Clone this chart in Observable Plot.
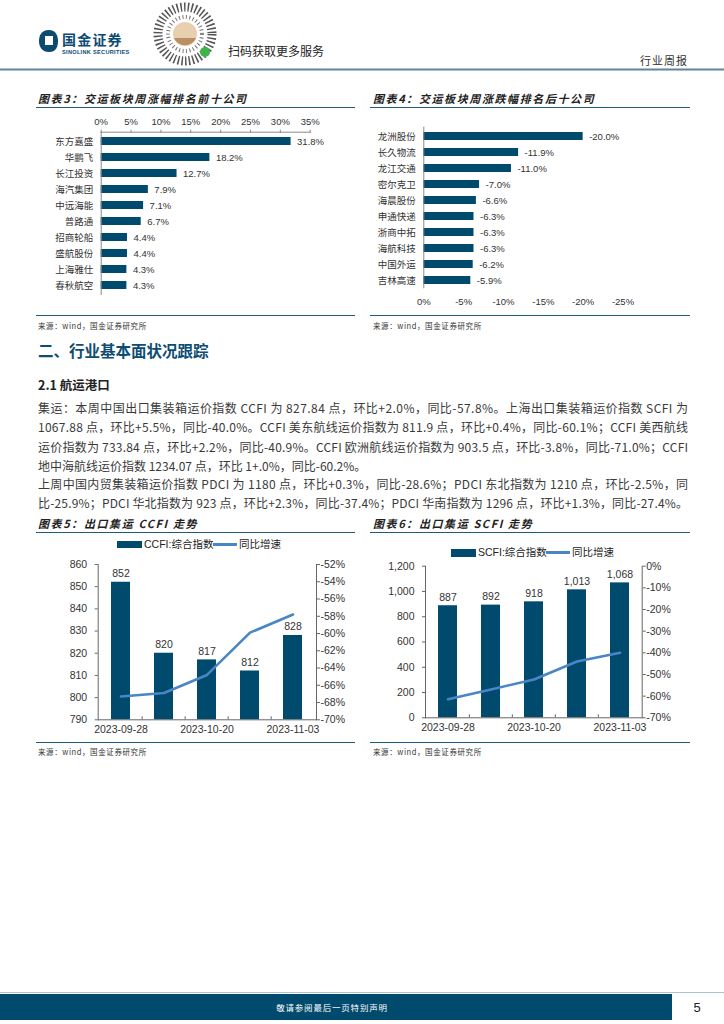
<!DOCTYPE html>
<html><head><meta charset="utf-8">
<script src="https://cdn.jsdelivr.net/npm/d3@7"></script>
<script src="https://cdn.jsdelivr.net/npm/@observablehq/plot@0.6"></script>
<style>
html,body{margin:0;padding:0;background:#fff}
body{width:724px;height:1024px;position:relative;overflow:hidden;font-family:"Liberation Sans","Noto Sans CJK SC",sans-serif;color:#333}
.title{position:absolute;font-family:"Noto Sans CJK SC",sans-serif;font-weight:bold;font-style:italic;font-size:11px;letter-spacing:1.6px;color:#222;white-space:nowrap;line-height:12px}
.hline{position:absolute;height:0;border-top:1.5px solid #1d5a82}
.src{position:absolute;font-family:"Noto Sans CJK SC",sans-serif;font-size:7.5px;letter-spacing:0.6px;color:#333;white-space:nowrap;line-height:9px}
.leg{position:absolute;font-family:"Liberation Sans","Noto Sans CJK SC",sans-serif;font-size:10.5px;color:#222;white-space:nowrap;line-height:12px}
.sw{position:absolute}
</style></head><body>
<div id="root"></div>
<script>
// ---------- data ----------
const topNames = ["东方嘉盛","华鹏飞","长江投资","海汽集团","中远海能","普路通","招商轮船","盛航股份","上海雅仕","春秋航空"];
const topValues = [31.8,18.2,12.7,7.9,7.1,6.7,4.4,4.4,4.3,4.3];
const topTicks = [0,5,10,15,20,25,30,35];
const bottomNames = ["龙洲股份","长久物流","龙江交通","密尔克卫","海晨股份","申通快递","浙商中拓","海航科技","中国外运","吉林高速"];
const bottomValues = [-20.0,-11.9,-11.0,-7.0,-6.6,-6.3,-6.3,-6.3,-6.2,-5.9];
const bottomTicks = [0,-5,-10,-15,-20,-25];
const weekDates = ["2023-09-28","2023-10-13","2023-10-20","2023-10-27","2023-11-03"];
const weekTickLabels = ["2023-09-28","2023-10-20","2023-11-03"];
const ccfiValues = [852,820,817,812,828];
const ccfiYoY = [-67.3,-66.9,-64.8,-59.9,-57.8];
const ccfiLeftTicks = [790,800,810,820,830,840,850,860];
const ccfiRightTicks = [-70,-68,-66,-64,-62,-60,-58,-56,-54,-52];
const scfiValues = [887,892,918,1013,1068];
const scfiYoY = [-61.4,-56.9,-52.3,-44.0,-40.0];
const scfiLeftTicks = [0,200,400,600,800,1000,1200];
const scfiRightTicks = [-70,-60,-50,-40,-30,-20,-10,0];
const paragraphLines = [
  "集运：本周中国出口集装箱运价指数 CCFI 为 827.84 点，环比+2.0%，同比-57.8%。上海出口集装箱运价指数 SCFI 为",
  "1067.88 点，环比+5.5%，同比-40.0%。CCFI 美东航线运价指数为 811.9 点，环比+0.4%，同比-60.1%；CCFI 美西航线",
  "运价指数为 733.84 点，环比+2.2%，同比-40.9%。CCFI 欧洲航线运价指数为 903.5 点，环比-3.8%，同比-71.0%；CCFI",
  "地中海航线运价指数 1234.07 点，环比 1+.0%，同比-60.2%。",
  "上周中国内贸集装箱运价指数 PDCI 为 1180 点，环比+0.3%，同比-28.6%；PDCI 东北指数为 1210 点，环比-2.5%，同",
  "比-25.9%；PDCI 华北指数为 923 点，环比+2.3%，同比-37.4%；PDCI 华南指数为 1296 点，环比+1.3%，同比-27.4%。"
];
const paragraphJustify = [true,true,true,false,true,true];

// ---------- style ----------
const NAVY = "#004a6e";
const LINEBLUE = "#4a86c6";
const AXIS = "#8a8a8a";
const FONT = "Liberation Sans, Noto Sans CJK SC, sans-serif";

const root = document.getElementById("root");
function place(el, left, top){ el.style.position="absolute"; el.style.left=left+"px"; el.style.top=top+"px"; root.appendChild(el); return el; }
function div(cls, text, left, top, extra){ const d=document.createElement("div"); d.className=cls; if(text) d.textContent=text; d.style.left=left+"px"; d.style.top=top+"px"; if(extra) Object.assign(d.style, extra); root.appendChild(d); return d; }

// ---------- header ----------
const hdr = d3.create("svg").attr("width",724).attr("height",75);
hdr.append("path").attr("d","M49 30 C 41 30 39 36 39 41 C 39 47 42 52 49 52 C 56 52 58 47 58 41 C 58 36 56 30 49 30 Z").attr("fill","#0d4a72");
hdr.append("rect").attr("x",45).attr("y",36).attr("width",8).attr("height",9).attr("fill","#fff");
hdr.append("text").attr("x",62).attr("y",45).attr("font-family","Noto Sans CJK SC").attr("font-weight","bold").attr("font-size",14).attr("letter-spacing",1.2).attr("fill","#0d4a72").text("国金证券");
hdr.append("text").attr("x",62).attr("y",54).attr("font-family","Liberation Sans").attr("font-weight","bold").attr("font-size",5.6).attr("letter-spacing",0.3).attr("fill","#0d4a72").text("SINOLINK SECURITIES");
hdr.append("circle").attr("cx",185).attr("cy",34).attr("r",27).attr("fill","none").attr("stroke","#555").attr("stroke-width",9).attr("stroke-dasharray","1.5 2.2");
hdr.append("circle").attr("cx",185).attr("cy",34).attr("r",17).attr("fill","none").attr("stroke","#777").attr("stroke-width",4).attr("stroke-dasharray","1 2.5");
hdr.append("circle").attr("cx",185).attr("cy",34).attr("r",12).attr("fill","#e8cfae");
hdr.append("path").attr("d","M174 38 A12 12 0 0 0 196 38 Z").attr("fill","#b98f63");
hdr.append("circle").attr("cx",205).attr("cy",52).attr("r",5).attr("fill","#3bb54a");
hdr.append("text").attr("x",228).attr("y",56).attr("font-family","Noto Sans CJK SC").attr("font-size",12).attr("fill","#222").text("扫码获取更多服务");
hdr.append("text").attr("x",640).attr("y",65).attr("font-family","Noto Sans CJK SC").attr("font-size",11).attr("letter-spacing",1).attr("fill","#333").text("行业周报");
hdr.append("rect").attr("x",0).attr("y",68.5).attr("width",724).attr("height",2).attr("fill","#5f84a2");
place(hdr.node(),0,0);

// ---------- titles & lines ----------
div("title","图表3：交运板块周涨幅排名前十公司",38,92);
div("title","图表4：交运板块周涨跌幅排名后十公司",373,92);
div("hline","",36,107,{width:"319px"});
div("hline","",370,107,{width:"320px"});
div("hline","",36,315,{width:"319px",borderTopWidth:"1px"});
div("hline","",370,315,{width:"320px",borderTopWidth:"1px"});
div("src","来源：wind，国金证券研究所",38,321);
div("src","来源：wind，国金证券研究所",373,321);

div("title","图表5：出口集运 CCFI 走势",38,517);
div("title","图表6：出口集运 SCFI 走势",373,517);
div("hline","",36,532,{width:"319px"});
div("hline","",370,532,{width:"320px"});
div("hline","",36,742,{width:"319px",borderTopWidth:"1px"});
div("hline","",370,742,{width:"320px",borderTopWidth:"1px"});
div("src","来源：wind，国金证券研究所",38,747);
div("src","来源：wind，国金证券研究所",373,747);

// ---------- section text ----------
const txt = d3.create("svg").attr("width",724).attr("height",200);
txt.append("text").attr("x",38).attr("y",18.5).attr("font-family","Noto Sans CJK SC").attr("font-weight","bold").attr("font-size",15.5).attr("fill","#0e4d73").text("二、行业基本面状况跟踪");
txt.append("text").attr("x",38).attr("y",51.5).attr("font-family","Noto Sans CJK SC").attr("font-weight","bold").attr("font-size",12.5).attr("fill","#222").text("2.1 航运港口");
const lineYs = [74.5,93.5,113.5,132.5,151.3,170.3];
paragraphLines.forEach((t,i)=>{
  const e = txt.append("text").attr("x",38).attr("y",lineYs[i]).attr("font-family","Noto Sans CJK SC").attr("font-size",12).attr("fill","#3a3a3a").text(t);
  if(paragraphJustify[i]) e.attr("textLength",650).attr("lengthAdjust","spacing");
});
place(txt.node(),0,338);

// ---------- chart 3 ----------
const topData = topNames.map((n,i)=>({name:n, v:topValues[i]}));
const c3 = Plot.plot({
  width:320, height:195, marginLeft:70.7, marginRight:40.3, marginTop:21.7, marginBottom:10,
  style:{fontFamily:FONT, fontSize:"9.5px", color:"#333", background:"transparent", overflow:"visible"},
  x:{domain:[0,35], label:null},
  y:{domain:topNames, range:[16.8,189.7], padding:0.48, label:null},
  marks:[
    Plot.barX(topData,{x:"v", y:"name", fill:NAVY}),
    Plot.text(topData,{x:"v", y:"name", text:d=>d.v.toFixed(1)+"%", textAnchor:"start", dx:6, fontSize:9.5, fill:"#333"}),
    Plot.ruleX([0],{stroke:AXIS}),
    Plot.frame({anchor:"top", stroke:AXIS}),
    Plot.axisX(topTicks,{anchor:"top", label:null, tickSize:3, tickPadding:4, tickFormat:d=>d+"%", stroke:AXIS, fill:"#333"}),
    Plot.axisY({label:null, tickSize:0, tickPadding:8, fontSize:9.5, fill:"#333"})
  ]
});
place(c3,30,110);

// ---------- chart 4 ----------
const botData = bottomNames.map((n,i)=>({name:n, v:bottomValues[i]}));
const c4 = Plot.plot({
  width:330, height:205, marginLeft:58.3, marginRight:72.5, marginTop:16.7, marginBottom:26.7,
  style:{fontFamily:FONT, fontSize:"9.5px", color:"#333", background:"transparent", overflow:"visible"},
  x:{domain:[0,-25], label:null},
  y:{domain:bottomNames, range:[11.75,185.3], padding:0.48, label:null},
  marks:[
    Plot.barX(botData,{x:"v", y:"name", fill:NAVY}),
    Plot.text(botData,{x:"v", y:"name", text:d=>d.v.toFixed(1)+"%", textAnchor:"start", dx:6, fontSize:9.5, fill:"#333"}),
    Plot.ruleX([0],{stroke:AXIS}),
    Plot.axisX(bottomTicks,{anchor:"bottom", label:null, tickSize:0, tickPadding:9, tickFormat:d=>d+"%", fill:"#333"}),
    Plot.axisY({label:null, tickSize:0, tickPadding:8, fontSize:9.5, fill:"#333"})
  ]
});
place(c4,365,110);

// ---------- combo chart helper ----------
function combo({values, yoy, leftTicks, rightTicks, leftDomain, rightDomain, leftFmt, labelFmt, width, height, ml, mr, mt, mb}){
  const toLeft = v => leftDomain[0] + (v - rightDomain[0]) * (leftDomain[1]-leftDomain[0])/(rightDomain[1]-rightDomain[0]);
  const fromLeft = y => rightDomain[0] + (y - leftDomain[0]) * (rightDomain[1]-rightDomain[0])/(leftDomain[1]-leftDomain[0]);
  const data = weekDates.map((d,i)=>({date:d, v:values[i], yoy:yoy[i]}));
  const step = (width-ml-mr)/weekDates.length;
  const tickLen = 3*(leftDomain[1]-leftDomain[0])/(height-mt-mb);
  return Plot.plot({
    width, height, marginLeft:ml, marginRight:mr, marginTop:mt, marginBottom:mb,
    style:{fontFamily:FONT, fontSize:"10px", color:"#333", background:"transparent", overflow:"visible"},
    x:{domain:weekDates, paddingInner:0.55, paddingOuter:0.275, label:null},
    y:{domain:leftDomain, label:null},
    marks:[
      Plot.barY(data,{x:"date", y1:leftDomain[0], y2:"v", fill:NAVY}),
      Plot.text(data,{x:"date", y:"v", text:d=>labelFmt(d.v), lineAnchor:"bottom", dy:-5, fontSize:10.5, fill:"#333"}),
      Plot.line(data,{x:"date", y:d=>toLeft(d.yoy), stroke:LINEBLUE, strokeWidth:2.6}),
      Plot.frame({anchor:"left", stroke:"#666"}),
      Plot.frame({anchor:"right", stroke:"#666"}),
      Plot.frame({anchor:"bottom", stroke:"#666"}),
      Plot.ruleX(weekDates.slice(1),{x:d=>d, dx:-step/2, y1:leftDomain[0], y2:leftDomain[0]+tickLen, stroke:"#666"}),
      Plot.axisY(leftTicks,{anchor:"left", label:null, tickSize:3, tickPadding:8, tickFormat:leftFmt, stroke:"#666", fill:"#333", fontSize:10.5}),
      Plot.axisY(rightTicks.map(toLeft),{anchor:"right", label:null, tickSize:3, tickPadding:1, tickFormat:y=>Math.round(fromLeft(y))+"%", stroke:"#666", fill:"#333", fontSize:10.5}),
      Plot.axisX(weekTickLabels,{anchor:"bottom", label:null, tickSize:0, tickPadding:6, fill:"#333", fontSize:10.5})
    ]
  });
}

const c5 = combo({values:ccfiValues, yoy:ccfiYoY, leftTicks:ccfiLeftTicks, rightTicks:ccfiRightTicks,
  leftDomain:[790,860], rightDomain:[-70,-52], leftFmt:d=>String(d), labelFmt:d=>String(d),
  width:320, height:185, ml:67.7, mr:34, mt:9, mb:20.7});
place(c5,30,555);

const c6 = combo({values:scfiValues, yoy:scfiYoY, leftTicks:scfiLeftTicks, rightTicks:scfiRightTicks,
  leftDomain:[0,1200], rightDomain:[-70,0], leftFmt:d3.format(","), labelFmt:d3.format(","),
  width:330, height:185, ml:60, mr:53.3, mt:10.7, mb:22.7});
place(c6,365,555);

// ---------- legends ----------
function legend(x, yc, label1, x2, label2){
  div("sw","",x,yc-3.7,{width:"25px",height:"7.5px",background:NAVY});
  div("leg",label1,x+27,yc-6.5);
  div("sw","",x2,yc-1.5,{width:"24px",height:"3px",background:LINEBLUE});
  div("leg",label2,x2+26,yc-6.5);
}
legend(117,544.3,"CCFI:综合指数",213,"同比增速");
legend(451,552.7,"SCFI:综合指数",546,"同比增速");

// ---------- footer ----------
const ft = d3.create("svg").attr("width",724).attr("height",34);
ft.append("rect").attr("x",0).attr("y",2).attr("width",724).attr("height",1).attr("fill","#a9c2d6");
ft.append("rect").attr("x",0).attr("y",4).attr("width",672).attr("height",26).attr("fill","#004a6e");
ft.append("text").attr("x",332).attr("y",21).attr("text-anchor","middle").attr("font-family","Noto Sans CJK SC").attr("font-size",8.5).attr("letter-spacing",0.8).attr("fill","#fff").text("敬请参阅最后一页特别声明");
ft.append("text").attr("x",697).attr("y",22).attr("text-anchor","middle").attr("font-family","Liberation Sans").attr("font-size",13).attr("fill","#222").text("5");
place(ft.node(),0,990);
</script>
</body></html>
